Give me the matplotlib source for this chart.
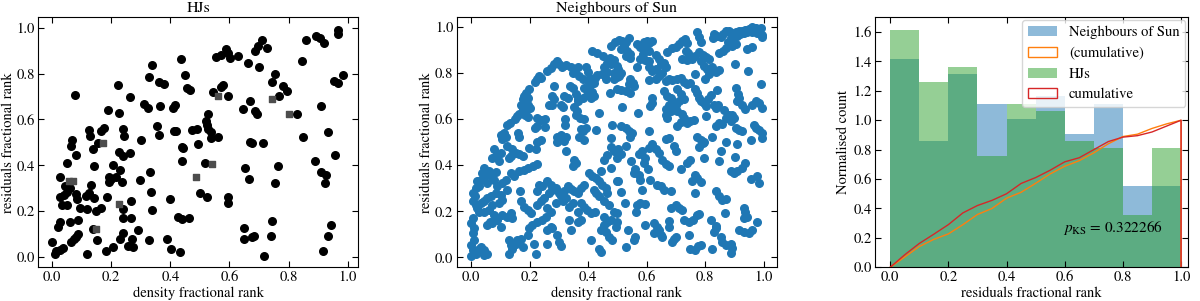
import numpy as np
import matplotlib
matplotlib.use("Agg")
import matplotlib.pyplot as plt
from matplotlib.patches import Patch

plt.rcParams['font.family'] = ['STIXGeneral', 'DejaVu Serif']
plt.rcParams['mathtext.fontset'] = 'stix'
plt.rcParams['font.size'] = 10.5

# ---------------- data ----------------
hj_pts = [
    (0.078,0.705),(0.222,0.752),(0.265,0.698),(0.188,0.640),(0.226,0.628),(0.337,0.836),(0.326,0.785),
    (0.363,0.763),(0.377,0.753),(0.437,0.865),(0.448,0.795),(0.456,0.739),(0.465,0.727),(0.310,0.666),
    (0.324,0.652),(0.366,0.657),(0.408,0.652),(0.415,0.662),(0.126,0.553),(0.129,0.528),(0.166,0.550),
    (0.174,0.563),(0.239,0.557),(0.243,0.528),(0.299,0.512),(0.356,0.570),(0.360,0.531),(0.411,0.549),
    (0.418,0.549),(0.474,0.553),(0.491,0.560),
    (0.068,0.510),(0.063,0.484),(0.155,0.499),(0.138,0.470),(0.439,0.482),(0.442,0.475),(0.493,0.493),
    (0.081,0.446),(0.225,0.456),(0.239,0.441),(0.262,0.453),(0.439,0.417),(0.050,0.409),(0.143,0.398),
    (0.205,0.402),(0.228,0.380),(0.330,0.373),(0.028,0.348),(0.192,0.348),(0.200,0.340),(0.217,0.348),
    (0.194,0.329),(0.236,0.329),(0.296,0.337),(0.042,0.308),(0.059,0.300),(0.051,0.286),(0.132,0.315),
    (0.028,0.261),(0.040,0.271),(0.079,0.276),(0.085,0.253),(0.115,0.267),(0.126,0.279),(0.143,0.257),
    (0.186,0.261),(0.267,0.245),(0.335,0.282),(0.400,0.253),(0.499,0.279),(0.033,0.228),(0.051,0.228),
    (0.095,0.213),(0.119,0.209),(0.149,0.203),(0.166,0.213),(0.239,0.209),(0.339,0.206),(0.025,0.155),
    (0.019,0.131),(0.062,0.155),(0.089,0.160),(0.239,0.170),(0.267,0.170),(0.425,0.177),(0.439,0.165),
    (0.462,0.170),(0.138,0.122),(0.290,0.119),(0.239,0.107),(0.089,0.100),(0.081,0.087),(0.073,0.078),
    (0.064,0.068),(0.000,0.068),(0.151,0.075),(0.231,0.080),(0.270,0.081),(0.256,0.049),(0.273,0.046),
    (0.326,0.073),(0.389,0.078),(0.036,0.039),(0.025,0.032),(0.014,0.025),(0.010,0.015),(0.119,0.015),
    (0.183,0.029),(0.205,0.046),(0.401,0.035),(0.431,0.023),
    (0.966,0.991),(0.968,0.971),(0.892,0.962),(0.906,0.956),(0.921,0.933),(0.858,0.945),(0.709,0.945),
    (0.698,0.919),(0.686,0.897),(0.726,0.913),(0.588,0.909),(0.596,0.890),(0.602,0.869),(0.553,0.872),
    (0.573,0.880),(0.630,0.877),(0.661,0.846),(0.700,0.829),(0.844,0.855),(0.754,0.800),(0.743,0.763),
    (0.782,0.745),(0.793,0.724),(0.769,0.702),(0.955,0.768),(0.968,0.759),(0.985,0.795),(0.545,0.720),
    (0.573,0.742),(0.579,0.749),(0.596,0.702),(0.669,0.679),(0.647,0.644),(0.686,0.636),(0.694,0.623),
    (0.827,0.623),(0.910,0.659),(0.528,0.623),(0.519,0.594),(0.523,0.575),(0.528,0.560),(0.536,0.546),
    (0.537,0.521),(0.560,0.524),(0.850,0.524),(0.935,0.546),(0.669,0.502),(0.677,0.499),(0.714,0.498),
    (0.957,0.446),(0.889,0.421),(0.910,0.370),(0.927,0.358),(0.923,0.325),(0.517,0.412),(0.652,0.390),
    (0.763,0.398),(0.667,0.340),(0.754,0.325),(0.523,0.264),(0.594,0.261),(0.594,0.238),(0.743,0.158),
    (0.650,0.129),(0.650,0.080),(0.677,0.086),(0.684,0.093),(0.740,0.094),(0.718,0.007),(0.944,0.141),
    (0.935,0.093),(0.918,0.025),
]

hj_sq_pts = [
    (0.172,0.496),(0.056,0.334),(0.072,0.332),(0.226,0.231),(0.147,0.124),(0.488,0.351),(0.540,0.406),
    (0.560,0.702),(0.745,0.688),(0.801,0.623),
]

nb_pts = [
    # upper left
    (0.493,0.937),(0.480,0.920),(0.415,0.895),(0.430,0.886),(0.452,0.873),(0.475,0.865),(0.489,0.857),
    (0.464,0.846),(0.478,0.839),(0.498,0.832),(0.293,0.854),(0.282,0.842),(0.301,0.839),(0.273,0.822),
    (0.312,0.829),(0.324,0.835),(0.341,0.825),(0.355,0.813),(0.364,0.827),(0.347,0.803),(0.261,0.810),
    (0.392,0.825),(0.400,0.807),(0.455,0.825),(0.463,0.807),(0.489,0.803),(0.498,0.784),(0.446,0.795),
    (0.430,0.792),(0.423,0.781),(0.233,0.788),(0.225,0.773),(0.218,0.763),(0.238,0.781),(0.369,0.788),
    (0.384,0.776),(0.400,0.766),(0.409,0.751),(0.421,0.759),(0.407,0.781),(0.461,0.773),(0.489,0.773),
    (0.339,0.744),(0.348,0.734),(0.284,0.744),(0.198,0.730),(0.187,0.715),(0.181,0.700),(0.193,0.693),
    (0.176,0.686),(0.387,0.737),(0.404,0.730),(0.415,0.719),(0.421,0.700),(0.409,0.693),(0.396,0.705),
    (0.384,0.693),(0.358,0.711),(0.366,0.690),(0.318,0.703),(0.330,0.693),(0.278,0.700),(0.284,0.686),
    (0.475,0.712),(0.364,0.678),(0.181,0.671),(0.170,0.661),(0.193,0.661),(0.202,0.649),(0.176,0.646),
    (0.187,0.637),(0.267,0.664),(0.275,0.661),(0.307,0.661),(0.316,0.652),(0.352,0.652),(0.361,0.635),
    (0.358,0.617),(0.373,0.605),(0.387,0.602),(0.164,0.624),(0.156,0.613),(0.185,0.620),(0.193,0.608),
    (0.437,0.627),(0.227,0.605),(0.238,0.598),(0.252,0.602),(0.320,0.602),(0.133,0.583),(0.124,0.573),
    (0.149,0.602),(0.320,0.576),(0.218,0.561),(0.227,0.569),(0.252,0.566),(0.483,0.576),(0.101,0.532),
    (0.113,0.539),(0.120,0.525),(0.107,0.515),(0.161,0.539),(0.164,0.523),(0.295,0.525),(0.307,0.532),
    (0.316,0.518),(0.325,0.525),(0.381,0.547),(0.392,0.561),(0.375,0.558),(0.426,0.554),(0.295,0.503),
    (0.318,0.506),(0.369,0.525),(0.387,0.510),(0.238,0.510),(0.227,0.503),(0.478,0.518),
    # upper right
    (0.990,0.998),(0.982,0.988),(0.993,0.968),(0.973,0.997),(0.961,0.999),(0.950,0.991),(0.938,0.988),
    (0.927,0.985),(0.916,0.982),(0.904,0.978),(0.893,0.974),(0.881,0.982),(0.870,0.985),(0.861,0.971),
    (0.853,0.956),(0.842,0.963),(0.832,0.971),(0.827,0.953),(0.887,0.953),(0.899,0.959),(0.910,0.963),
    (0.921,0.971),(0.933,0.974),(0.944,0.977),(0.961,0.978),(0.978,0.974),(0.879,0.934),(0.891,0.920),
    (0.904,0.927),(0.872,0.909),(0.861,0.898),(0.849,0.887),(0.944,0.905),(0.961,0.915),(0.993,0.956),
    (0.539,0.953),(0.528,0.934),(0.517,0.939),(0.507,0.944),(0.522,0.920),(0.511,0.905),(0.534,0.898),
    (0.545,0.883),(0.528,0.876),(0.542,0.865),(0.568,0.927),(0.579,0.915),(0.591,0.934),(0.602,0.942),
    (0.608,0.930),(0.619,0.939),(0.596,0.905),(0.608,0.898),(0.587,0.883),(0.579,0.861),(0.594,0.857),
    (0.608,0.854),(0.631,0.880),(0.642,0.861),(0.670,0.890),(0.688,0.909),(0.699,0.915),(0.710,0.927),
    (0.722,0.939),(0.733,0.949),(0.739,0.930),(0.773,0.978),(0.779,0.956),(0.785,0.934),(0.735,0.898),
    (0.742,0.886),(0.722,0.861),(0.739,0.857),(0.754,0.861),(0.767,0.876),(0.779,0.890),(0.792,0.880),
    (0.804,0.871),(0.815,0.861),(0.785,0.854),
    (0.503,0.817),(0.511,0.803),(0.507,0.788),(0.568,0.827),(0.608,0.825),(0.619,0.810),(0.631,0.817),
    (0.648,0.839),(0.659,0.846),(0.665,0.825),(0.653,0.803),(0.642,0.788),(0.631,0.773),(0.608,0.769),
    (0.764,0.798),(0.796,0.832),(0.807,0.817),(0.813,0.795),(0.799,0.773),(0.824,0.825),(0.836,0.807),
    (0.849,0.813),(0.902,0.842),(0.948,0.810),(0.545,0.773),(0.553,0.759),(0.556,0.744),(0.539,0.751),
    (0.665,0.766),(0.676,0.773),(0.688,0.769),(0.705,0.773),(0.716,0.778),(0.727,0.763),(0.739,0.751),
    (0.750,0.759),
    (0.499,0.730),(0.514,0.725),(0.528,0.722),(0.542,0.715),(0.617,0.693),(0.619,0.671),(0.613,0.656),
    (0.659,0.722),(0.670,0.700),(0.682,0.693),(0.688,0.678),(0.676,0.661),(0.665,0.646),(0.705,0.730),
    (0.716,0.708),(0.727,0.686),(0.710,0.678),(0.699,0.661),(0.767,0.730),(0.773,0.715),(0.779,0.693),
    (0.785,0.678),(0.796,0.671),(0.802,0.656),(0.811,0.686),(0.819,0.705),(0.842,0.725),(0.830,0.664),
    (0.836,0.649),(0.845,0.661),(0.904,0.737),(0.913,0.711),(0.916,0.693),(0.910,0.678),(0.927,0.661),
    (0.938,0.646),(0.990,0.754),(0.973,0.681),(0.984,0.671),(0.995,0.649),(0.961,0.661),(0.517,0.652),
    (0.571,0.627),
    (0.514,0.569),(0.528,0.561),(0.539,0.547),(0.551,0.539),(0.545,0.525),(0.608,0.547),(0.665,0.620),
    (0.670,0.605),(0.682,0.637),(0.705,0.637),(0.722,0.623),(0.727,0.605),(0.716,0.588),(0.705,0.569),
    (0.739,0.583),(0.750,0.591),(0.762,0.598),(0.802,0.613),(0.773,0.525),(0.785,0.510),(0.796,0.503),
    (0.824,0.525),(0.836,0.569),(0.847,0.583),(0.859,0.579),(0.870,0.605),(0.864,0.642),(0.881,0.620),
    (0.893,0.617),(0.899,0.605),(0.887,0.594),(0.904,0.564),(0.916,0.554),(0.927,0.547),(0.967,0.576),
    (0.975,0.561),(0.984,0.554),(0.995,0.539),(0.993,0.520),(0.956,0.510),(0.665,0.515),(0.676,0.518),
    (0.870,0.503),
    # lower left
    (0.079,0.469),(0.088,0.447),(0.101,0.455),(0.073,0.433),(0.096,0.418),(0.124,0.484),(0.141,0.469),
    (0.153,0.455),(0.164,0.447),(0.176,0.440),(0.136,0.440),(0.130,0.433),(0.198,0.477),(0.221,0.472),
    (0.227,0.404),(0.213,0.396),(0.193,0.389),(0.181,0.379),(0.352,0.425),(0.358,0.411),(0.347,0.396),
    (0.324,0.462),(0.478,0.481),(0.489,0.462),(0.466,0.443),(0.455,0.425),
    (0.044,0.389),(0.039,0.367),(0.050,0.360),(0.062,0.374),(0.067,0.352),(0.079,0.338),(0.084,0.370),
    (0.022,0.330),(0.033,0.338),(0.056,0.323),(0.027,0.308),(0.016,0.301),(0.090,0.308),(0.107,0.323),
    (0.119,0.338),(0.136,0.367),(0.147,0.352),(0.164,0.374),(0.124,0.294),(0.233,0.316),(0.244,0.308),
    (0.227,0.287),(0.261,0.330),(0.273,0.316),(0.278,0.294),(0.267,0.279),(0.290,0.301),(0.301,0.279),
    (0.307,0.265),(0.318,0.287),(0.330,0.308),(0.341,0.297),(0.352,0.287),(0.364,0.279),(0.375,0.301),
    (0.387,0.316),(0.404,0.367),(0.415,0.355),(0.426,0.345),(0.438,0.330),(0.449,0.316),(0.461,0.301),
    (0.466,0.279),(0.444,0.374),(0.498,0.330),(0.478,0.389),(0.421,0.294),(0.426,0.279),(0.438,0.265),
    (0.008,0.279),(0.013,0.265),(0.005,0.243),(0.016,0.228),(0.022,0.213),(0.033,0.235),(0.044,0.243),
    (0.056,0.257),(0.067,0.265),(0.084,0.279),(0.101,0.272),(0.107,0.250),(0.096,0.235),(0.073,0.228),
    (0.062,0.206),(0.044,0.199),(0.027,0.199),(0.168,0.287),(0.170,0.243),(0.181,0.221),(0.193,0.206),
    (0.204,0.192),(0.227,0.228),(0.238,0.243),(0.250,0.257),(0.259,0.213),(0.273,0.199),(0.290,0.235),
    (0.316,0.243),(0.324,0.257),(0.335,0.221),(0.347,0.235),(0.375,0.235),(0.387,0.221),(0.398,0.206),
    (0.409,0.192),(0.364,0.199),(0.423,0.199),(0.455,0.243),(0.472,0.228),(0.489,0.199),(0.455,0.177),
    (0.079,0.184),(0.090,0.162),
    (0.005,0.170),(0.000,0.148),(0.010,0.126),(0.005,0.104),(0.010,0.075),(0.000,0.053),(0.005,0.031),
    (0.001,0.004),(0.016,0.016),(0.027,0.038),(0.035,0.045),(0.044,0.031),(0.056,0.016),(0.044,0.009),
    (0.065,0.155),(0.073,0.148),(0.056,0.140),(0.107,0.184),(0.122,0.177),(0.136,0.192),(0.141,0.170),
    (0.101,0.130),(0.130,0.075),(0.136,0.053),(0.141,0.038),(0.130,0.016),(0.153,0.060),(0.158,0.075),
    (0.170,0.082),(0.176,0.045),(0.193,0.096),(0.198,0.126),(0.210,0.140),(0.227,0.155),(0.244,0.162),
    (0.255,0.174),(0.216,0.060),(0.221,0.016),(0.261,0.118),(0.273,0.133),(0.278,0.126),(0.259,0.060),
    (0.293,0.096),(0.301,0.067),(0.307,0.048),(0.341,0.118),(0.335,0.162),(0.364,0.155),(0.375,0.162),
    (0.409,0.075),(0.438,0.038),(0.444,0.023),(0.444,0.121),(0.455,0.140),(0.466,0.155),(0.478,0.162),
    (0.461,0.111),(0.472,0.089),(0.483,0.075),(0.498,0.155),
    # lower right
    (0.503,0.469),(0.511,0.447),(0.499,0.433),(0.528,0.484),(0.548,0.418),(0.574,0.447),(0.585,0.462),
    (0.596,0.433),(0.591,0.411),(0.608,0.477),(0.617,0.491),(0.631,0.469),(0.642,0.455),(0.653,0.425),
    (0.665,0.404),(0.676,0.396),(0.693,0.484),(0.699,0.462),(0.739,0.411),(0.750,0.423),(0.779,0.481),
    (0.792,0.496),(0.796,0.433),(0.849,0.418),(0.853,0.462),(0.902,0.437),(0.910,0.491),(0.887,0.374),
    (0.899,0.367),(0.910,0.374),(0.925,0.389),(0.936,0.411),(0.956,0.341),(0.978,0.352),(0.984,0.323),
    (0.562,0.382),(0.556,0.367),(0.574,0.360),(0.579,0.338),(0.585,0.294),(0.605,0.385),(0.613,0.335),
    (0.636,0.316),(0.648,0.308),(0.659,0.294),(0.685,0.287),(0.716,0.385),(0.767,0.360),(0.773,0.345),
    (0.756,0.330),(0.785,0.326),(0.767,0.279),(0.836,0.287),(0.847,0.265),(0.859,0.250),(0.870,0.253),
    (0.503,0.330),(0.511,0.282),(0.526,0.238),(0.568,0.228),(0.579,0.235),(0.596,0.232),(0.499,0.194),
    (0.564,0.199),(0.685,0.213),(0.699,0.228),(0.710,0.213),(0.722,0.206),(0.727,0.162),(0.745,0.155),
    (0.758,0.162),(0.773,0.184),(0.779,0.189),(0.819,0.162),(0.836,0.136),(0.868,0.194),(0.933,0.213),
    (0.938,0.199),(0.944,0.177),(0.933,0.170),(0.978,0.155),(0.676,0.159),(0.625,0.148),(0.594,0.140),
    (0.537,0.121),(0.562,0.089),(0.556,0.075),(0.528,0.045),(0.636,0.133),(0.642,0.118),(0.625,0.104),
    (0.648,0.096),(0.653,0.089),(0.676,0.130),(0.693,0.082),(0.699,0.089),(0.688,0.067),(0.745,0.096),
    (0.750,0.038),(0.767,0.031),(0.776,0.048),(0.785,0.053),(0.824,0.038),(0.830,0.111),(0.836,0.126),
    (0.856,0.089),(0.859,0.067),(0.870,0.053),(0.887,0.060),(0.893,0.042),(0.887,0.019),(0.916,0.118),
    (0.933,0.111),(0.950,0.104),(0.961,0.118),(0.494,0.133),
]

bin_edges = [0.0, 0.1, 0.2, 0.3, 0.4, 0.5, 0.6, 0.7, 0.8, 0.9, 1.0]
nb_density = [1.414, 0.859, 1.313, 1.111, 1.010, 1.162, 0.909, 1.111, 0.556, 0.556]
hj_density = [1.616, 1.263, 1.364, 0.758, 1.111, 1.061, 0.859, 0.808, 0.354, 0.808]

cum_x = [0.0, 0.05, 0.1, 0.15, 0.2, 0.25, 0.3, 0.35, 0.4, 0.45, 0.5, 0.55, 0.6, 0.65, 0.7,
         0.75, 0.8, 0.85, 0.9, 0.95, 1.0]
nb_cum = [0.0, 0.07, 0.141, 0.19, 0.227, 0.29, 0.359, 0.40, 0.47, 0.51, 0.571, 0.635, 0.687,
          0.725, 0.778, 0.84, 0.889, 0.905, 0.944, 0.975, 1.0]
hj_cum = [0.0, 0.085, 0.162, 0.225, 0.29, 0.37, 0.42, 0.455, 0.50, 0.57, 0.61, 0.66, 0.717,
          0.745, 0.80, 0.855, 0.885, 0.895, 0.92, 0.96, 1.0]

p_ks = 0.322266

# ---------------- figure ----------------
fig = plt.figure(figsize=(12.0, 3.01), dpi=100)
ax1 = fig.add_axes([0.0319, 0.112, 0.2667, 0.8306])
ax2 = fig.add_axes([0.3806, 0.112, 0.2667, 0.8306])
ax3 = fig.add_axes([0.7292, 0.112, 0.2611, 0.8306])

hj = np.array(hj_pts)
sq = np.array(hj_sq_pts)
nb = np.array(nb_pts)

ax1.scatter(hj[:, 0], hj[:, 1], s=30, color='black', zorder=2)
ax1.scatter(sq[:, 0], sq[:, 1], s=18, marker='s', color='0.3', zorder=3)
ax1.set_title('HJs', fontsize=11.5, pad=4)
ax1.set_xlim(-0.047, 1.036)
ax1.set_ylim(-0.044, 1.045)

ax2.scatter(nb[:, 0], nb[:, 1], s=30, color='C0')
ax2.set_title('Neighbours of Sun', fontsize=11.5, pad=4)
ax2.set_xlim(-0.049, 1.045)
ax2.set_ylim(-0.043, 1.043)

for ax in (ax1, ax2):
    ax.set_xlabel('density fractional rank', labelpad=1.5)
    ax.set_ylabel('residuals fractional rank', labelpad=1)
    ax.set_xticks([0, 0.2, 0.4, 0.6, 0.8, 1.0])
    ax.set_yticks([0, 0.2, 0.4, 0.6, 0.8, 1.0])

centers = [(a + b) / 2 for a, b in zip(bin_edges[:-1], bin_edges[1:])]
ax3.hist(centers, bins=bin_edges, weights=nb_density, color='C0', alpha=0.5)
ax3.hist(centers, bins=bin_edges, weights=hj_density, color='C2', alpha=0.5)
ax3.plot(cum_x + [1.0], nb_cum + [0.0], color='C1', lw=1.0)
ax3.plot(cum_x + [1.0], hj_cum + [0.0], color='C3', lw=1.0)
ax3.text(0.595, 0.27, r'$p_{\rm KS}$ = %.6f' % p_ks, va='center', ha='left', fontsize=11)
ax3.set_xlim(-0.052, 1.025)
ax3.set_ylim(0, 1.7)
ax3.set_xticks([0, 0.2, 0.4, 0.6, 0.8, 1.0])
ax3.set_yticks(np.arange(0, 1.61, 0.2))
ax3.set_xlabel('residuals fractional rank', labelpad=1.5)
ax3.set_ylabel('Normalised count', labelpad=2)
handles = [Patch(facecolor='C0', alpha=0.5, edgecolor='none'),
           Patch(facecolor='none', edgecolor='C1'),
           Patch(facecolor='C2', alpha=0.5, edgecolor='none'),
           Patch(facecolor='none', edgecolor='C3')]
ax3.legend(handles, ['Neighbours of Sun', '(cumulative)', 'HJs', 'cumulative'],
           loc='upper right', fontsize=10.5, borderaxespad=0.2)

for ax in (ax1, ax2, ax3):
    ax.tick_params(direction='in', top=True, right=True, length=4, labelsize=10.5, pad=2.5)
    ax.set_xticklabels(['%.1f' % t for t in ax.get_xticks()])
    ax.set_yticklabels(['%.1f' % t for t in ax.get_yticks()])

fig.savefig('out.png', dpi=100)
